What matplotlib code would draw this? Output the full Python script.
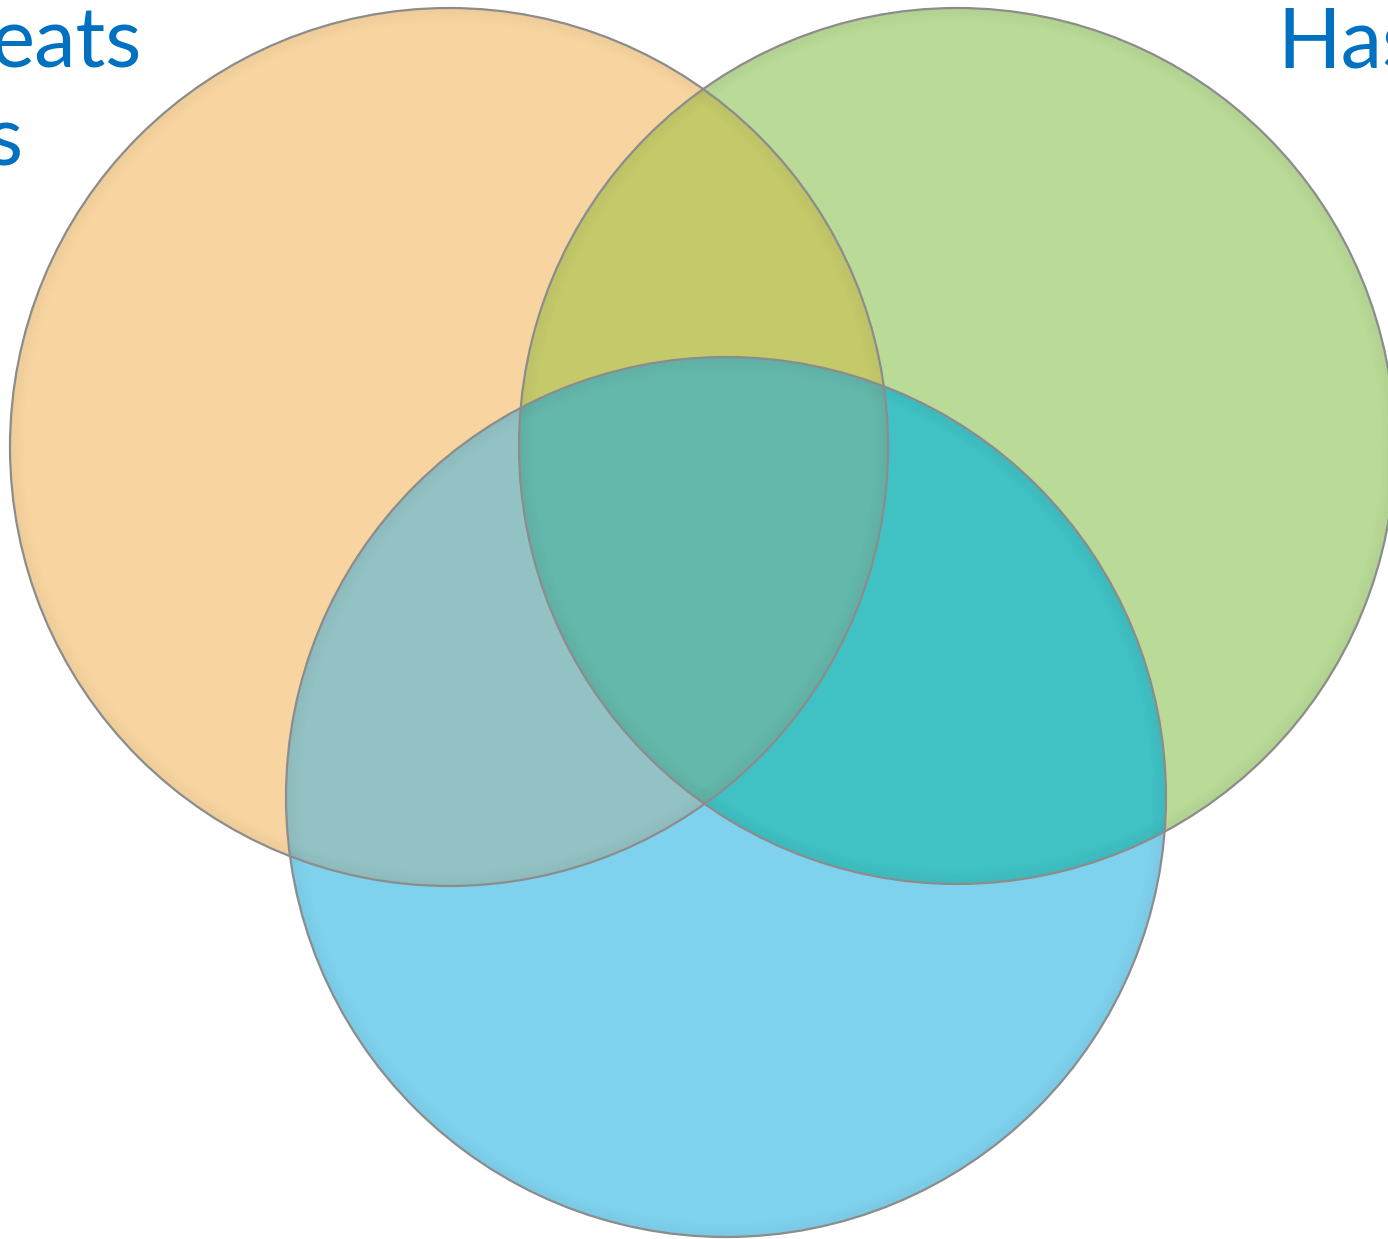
import numpy as np
import matplotlib.pyplot as plt
from matplotlib.patches import Circle, PathPatch
from matplotlib.path import Path

# three sets: centre x, centre y (pixels, y down) and radius
set_names = ["orange", "green", "blue"]
centers = [(449, 447), (957, 446), (726, 797)]
radii = [439, 438, 440]
fills = ["#F8D5A0", "#BADA97", "#7FD2EE"]

# colours of the overlaps
overlap_og = "#C4CA6A"
overlap_ob = "#93C2C5"
overlap_gb = "#40C1C4"
overlap_all = "#64B8AB"

labels = ["eats", "s", "Has"]
label_color = "#0070C0"

W, H = 1388, 1239


def circle_points(c, r, n=720):
    t = np.linspace(0, 2 * np.pi, n, endpoint=False)
    return np.column_stack([c[0] + r * np.cos(t), c[1] + r * np.sin(t)])


def arc_inside(c, r, c2, r2):
    pts = circle_points(c, r)
    inside = np.hypot(pts[:, 0] - c2[0], pts[:, 1] - c2[1]) < r2
    # roll so the run of inside points starts at index 0
    start = next(i for i in range(len(pts)) if not inside[i - 1] and inside[i])
    pts = np.roll(pts, -start, axis=0)
    inside = np.roll(inside, -start)
    end = np.argmin(inside)
    return pts[:end]


def lens_path(i, j):
    a = arc_inside(centers[i], radii[i], centers[j], radii[j])
    b = arc_inside(centers[j], radii[j], centers[i], radii[i])
    verts = np.vstack([a, b, a[:1]])
    codes = [Path.MOVETO] + [Path.LINETO] * (len(verts) - 2) + [Path.CLOSEPOLY]
    return Path(verts, codes)


fig = plt.figure(figsize=(W / 100, H / 100), dpi=100)
ax = fig.add_axes([0, 0, 1, 1])
ax.set_xlim(0, W)
ax.set_ylim(H, 0)
ax.set_aspect("equal")
ax.axis("off")


def disc(k, color, z):
    p = Circle(centers[k], radii[k], facecolor=color, edgecolor="none", zorder=z)
    ax.add_patch(p)
    return p


def clip_disc(k):
    return Circle(centers[k], radii[k], transform=ax.transData)


# base discs
disc(0, fills[0], 1)
disc(1, fills[1], 2)
disc(2, fills[2], 3)

# pairwise overlaps
p = disc(1, overlap_og, 4)
p.set_clip_path(clip_disc(0))
p = disc(2, overlap_ob, 4)
p.set_clip_path(clip_disc(0))
p = disc(2, overlap_gb, 4)
p.set_clip_path(clip_disc(1))

# triple overlap: blue disc clipped to the orange/green lens
p = disc(2, overlap_all, 5)
lens = PathPatch(lens_path(0, 1), transform=ax.transData)
p.set_clip_path(lens)

# soft inner shadow along each rim
for k in range(3):
    for s in range(10):
        ring = Circle(centers[k], radii[k] - 1 - s * 1.3, fill=False,
                      edgecolor="#303030", lw=1.6, alpha=0.028 * (1 - s / 10),
                      zorder=6)
        ax.add_patch(ring)
        ring.set_clip_path(clip_disc(k))

# outlines
for k in range(3):
    ax.add_patch(Circle(centers[k], radii[k], fill=False, edgecolor="#8C8C8C",
                        lw=1.6, zorder=7))

font = dict(family=["Lato", "DejaVu Sans"], weight="normal", color=label_color,
            fontsize=60, va="baseline", zorder=8)
ax.text(142, 67, labels[0], ha="right", **font)
ax.text(22, 165, labels[1], ha="right", **font)
ax.text(1277, 67, labels[2], ha="left", **font)

fig.savefig("out.png", dpi=100)
